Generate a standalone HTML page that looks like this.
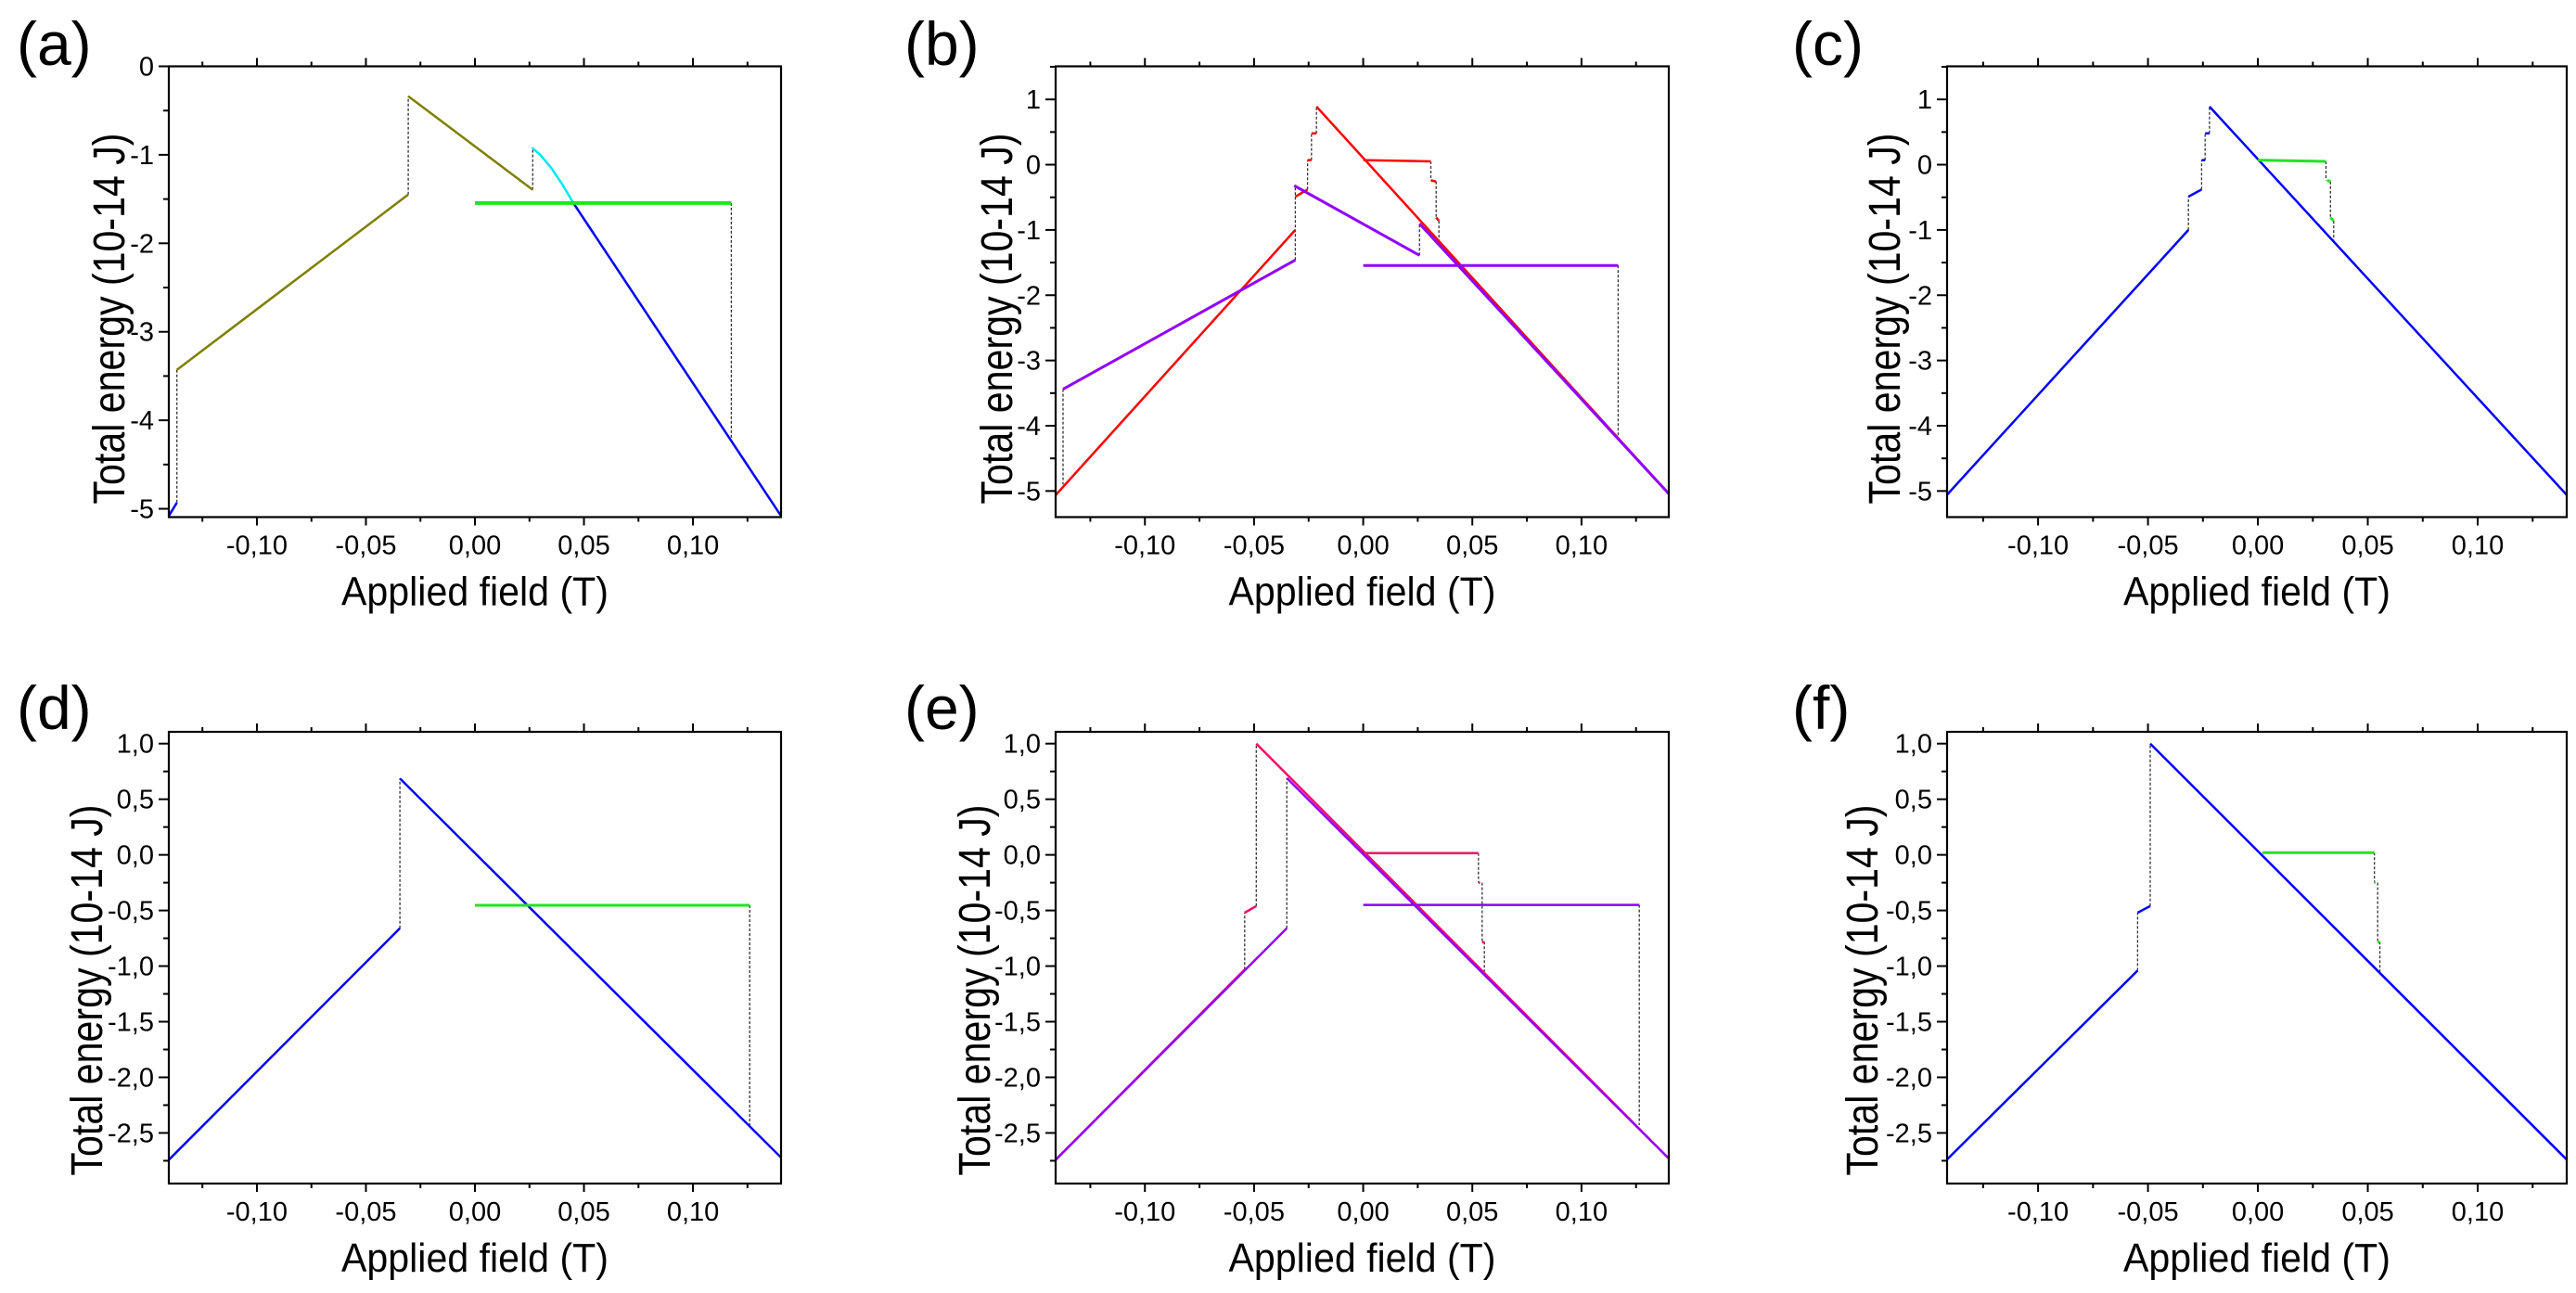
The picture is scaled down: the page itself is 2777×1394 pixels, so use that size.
<!DOCTYPE html>
<html><head><meta charset="utf-8"><style>
html,body{margin:0;padding:0;background:#fff;}
svg{display:block;font-family:"Liberation Sans",Arial,sans-serif;}
</style></head><body>
<svg id="fig" width="2777" height="1394" viewBox="0 0 2777 1394" xmlns="http://www.w3.org/2000/svg"></svg>
<script>
// ===== Data (field in T, energy in 1e-14 J); null = break =====
// panel a
const aOliveX=[-0.1367,-0.0306,null,-0.0306,0.0265];
const aOliveY=[-3.43,-1.45,null,-0.337,-1.395];
const aCyanX=[0.0262,0.030,0.035,0.040,0.045];
const aCyanY=[-0.92,-1.0,-1.15,-1.33,-1.54];
const aGreenX=[0.0,0.1176];
const aGreenY=[-1.545,-1.545];
const aBlueX=[-0.1404,-0.1367,null,0.045,0.1404];
const aBlueY=[-5.08,-4.93,null,-1.54,-5.08];
const aDashX=[-0.1367,-0.1367,null,-0.0306,-0.0306,null,0.0265,0.0265,null,0.1176,0.1176];
const aDashY=[-3.43,-4.93,null,-1.45,-0.337,null,-1.395,-0.92,null,-1.545,-4.22];
// panel b
const bRedX=[-0.1408,-0.0311,null,-0.0311,-0.0255,null,-0.0255,-0.0237,null,-0.0237,-0.0214,null,-0.0214,0.1405,null,0.0,0.031,null,0.031,0.0334,null,0.0334,0.0347];
const bRedY=[-5.06,-1.0,null,-0.49,-0.38,null,0.07,0.07,null,0.48,0.48,null,0.89,-5.06,null,0.07,0.05,null,-0.24,-0.26,null,-0.81,-0.86];
const bPurpleX=[-0.1375,-0.0311,null,-0.0316,0.0258,null,0.0258,0.1405,null,0.0,0.1168];
const bPurpleY=[-3.44,-1.46,null,-0.32,-1.39,null,-0.905,-5.06,null,-1.545,-1.545];
const bDashX=[-0.1375,-0.1375,null,-0.0311,-0.0311,null,-0.0255,-0.0255,null,-0.0237,-0.0237,null,-0.0214,-0.0214,null,0.0258,0.0258,null,0.031,0.031,null,0.0334,0.0334,null,0.0347,0.0347,null,0.1168,0.1168];
const bDashY=[-3.44,-4.9,null,-1.46,-0.32,null,-0.38,0.07,null,0.07,0.48,null,0.48,0.89,null,-1.39,-0.905,null,0.05,-0.24,null,-0.26,-0.81,null,-0.86,-1.16,null,-1.545,-4.2];
// panel c
const cBlueX=[-0.1415,-0.0316,null,-0.0316,-0.0256,null,-0.0256,-0.024,null,-0.024,-0.022,null,-0.022,0.1405];
const cBlueY=[-5.06,-1.0,null,-0.49,-0.38,null,0.07,0.07,null,0.48,0.48,null,0.89,-5.06];
const cGreenX=[0.0,0.031,null,0.0315,0.033,null,0.033,0.0345];
const cGreenY=[0.07,0.05,null,-0.24,-0.26,null,-0.81,-0.86];
const cDashX=[-0.0316,-0.0316,null,-0.0256,-0.0256,null,-0.024,-0.024,null,-0.022,-0.022,null,0.031,0.031,null,0.033,0.033,null,0.0345,0.0345];
const cDashY=[-1.0,-0.49,null,-0.38,0.07,null,0.07,0.48,null,0.48,0.89,null,0.05,-0.24,null,-0.26,-0.81,null,-0.86,-1.15];
// panel d
const dBlueX=[-0.1403,-0.0344,null,-0.0344,0.1403];
const dBlueY=[-2.74,-0.66,null,0.687,-2.72];
const dGreenX=[0.0,0.126];
const dGreenY=[-0.453,-0.453];
const dDashX=[-0.0344,-0.0344,null,0.126,0.126];
const dDashY=[-0.66,0.687,null,-0.453,-2.43];
// panel e
const ePinkX=[-0.1408,-0.0543,null,-0.0543,-0.049,null,-0.049,0.1405,null,0.001,0.0528,null,0.0528,0.0535,null,0.0545,0.0555];
const ePinkY=[-2.74,-1.03,null,-0.52,-0.46,null,1.0,-2.74,null,0.016,0.016,null,-0.25,-0.25,null,-0.78,-0.79];
const ePurpleX=[-0.1408,-0.035,null,-0.035,0.1405,null,0.0,0.1265];
const ePurpleY=[-2.74,-0.66,null,0.69,-2.74,null,-0.45,-0.45];
const eDashX=[-0.0543,-0.0543,null,-0.049,-0.049,null,-0.035,-0.035,null,0.0528,0.0528,null,0.0545,0.0545,null,0.0555,0.0555,null,0.1265,0.1265];
const eDashY=[-1.03,-0.52,null,-0.46,1.0,null,-0.66,0.69,null,0.016,-0.25,null,-0.25,-0.78,null,-0.78,-1.05,null,-0.45,-2.43];
// panel f
const fBlueX=[-0.1415,-0.0547,null,-0.0547,-0.049,null,-0.049,0.1405];
const fBlueY=[-2.74,-1.04,null,-0.52,-0.46,null,1.0,-2.74];
const fGreenX=[0.002,0.053,null,0.053,0.0535,null,0.0545,0.0555];
const fGreenY=[0.02,0.02,null,-0.25,-0.25,null,-0.78,-0.79];
const fDashX=[-0.0547,-0.0547,null,-0.049,-0.049,null,0.053,0.053,null,0.0545,0.0545,null,0.0555,0.0555];
const fDashY=[-1.04,-0.52,null,-0.46,1.0,null,0.02,-0.25,null,-0.25,-0.78,null,-0.78,-1.05];
// ticks
const xTicks=[-0.10,-0.05,0.00,0.05,0.10];
const xTickLabels=["-0,10","-0,05","0,00","0,05","0,10"];
const xMinor=[-0.125,-0.075,-0.025,0.025,0.075,0.125];
const yTicksA=[0,-1,-2,-3,-4,-5];
const yTickLabelsA=["0","-1","-2","-3","-4","-5"];
const yTicksB=[1,0,-1,-2,-3,-4,-5];
const yTickLabelsB=["1","0","-1","-2","-3","-4","-5"];
const yTicksD=[1.0,0.5,0.0,-0.5,-1.0,-1.5,-2.0,-2.5];
const yTickLabelsD=["1,0","0,5","0,0","-0,5","-1,0","-1,5","-2,0","-2,5"];

const NS="http://www.w3.org/2000/svg";
const svg=document.getElementById('fig');
function mk(tag,attrs,parent){const e=document.createElementNS(NS,tag);for(const k in attrs)e.setAttribute(k,attrs[k]);(parent||svg).appendChild(e);return e;}

const C={olive:"#7f7f00",cyan:"#00e8f0",green:"#1ee61e",blue:"#0000ff",red:"#ff0000",purple:"#9100ff",pink:"#ff0a64"};

const panels=[
 {id:"a",L:182,R:842,T:71.5,B:557.5,x0:-0.1404,x1:0.1404,y0:-5.094,y1:0,yt:yTicksA,yl:yTickLabelsA,ym:0.5,lab:18,labY:70,ttlX:117,
  series:[[aOliveX,aOliveY,C.olive,2.5,"olive-series"],[aCyanX,aCyanY,C.cyan,2.5,"cyan-series"],[aBlueX,aBlueY,C.blue,2.5,"blue-series"],[aGreenX,aGreenY,C.green,4,"green-series"]],dash:[aDashX,aDashY]},
 {id:"b",L:1138,R:1799,T:71.5,B:557.5,x0:-0.1409,x1:0.1400,y0:-5.4,y1:1.507,yt:yTicksB,yl:yTickLabelsB,ym:0.5,lab:975,labY:70,ttlX:1074,
  series:[[bRedX,bRedY,C.red,2.5,"red-series"],[bPurpleX,bPurpleY,C.purple,3,"purple-series"]],dash:[bDashX,bDashY]},
 {id:"c",L:2099,R:2767,T:71.5,B:557.5,x0:-0.1414,x1:0.1405,y0:-5.4,y1:1.507,yt:yTicksB,yl:yTickLabelsB,ym:0.5,lab:1932,labY:70,ttlX:2031,
  series:[[cBlueX,cBlueY,C.blue,2.5,"blue-series"],[cGreenX,cGreenY,C.green,3,"green-series"]],dash:[cDashX,cDashY]},
 {id:"d",L:182,R:842,T:789,B:1276,x0:-0.1404,x1:0.1404,y0:-2.955,y1:1.106,yt:yTicksD,yl:yTickLabelsD,ym:0.25,lab:18,labY:786,ttlX:93,
  series:[[dBlueX,dBlueY,C.blue,2.5,"blue-series"],[dGreenX,dGreenY,C.green,3,"green-series"]],dash:[dDashX,dDashY]},
 {id:"e",L:1138,R:1799,T:789,B:1276,x0:-0.1409,x1:0.1400,y0:-2.955,y1:1.106,yt:yTicksD,yl:yTickLabelsD,ym:0.25,lab:975,labY:786,ttlX:1050,
  series:[[ePinkX,ePinkY,C.pink,2.5,"pink-series"],[ePurpleX,ePurpleY,C.purple,2.5,"purple-series"]],dash:[eDashX,eDashY]},
 {id:"f",L:2099,R:2767,T:789,B:1276,x0:-0.1414,x1:0.1405,y0:-2.955,y1:1.106,yt:yTicksD,yl:yTickLabelsD,ym:0.25,lab:1932,labY:786,ttlX:2007,
  series:[[fBlueX,fBlueY,C.blue,2.5,"blue-series"],[fGreenX,fGreenY,C.green,3,"green-series"]],dash:[fDashX,fDashY]}
];

panels.forEach(p=>{
 const g=mk('g',{});
 
 
 const sx=v=>p.L+(v-p.x0)/(p.x1-p.x0)*(p.R-p.L);
 const sy=v=>p.B-(v-p.y0)/(p.y1-p.y0)*(p.B-p.T);
 function pathD(xs,ys){let d="",pen=false;for(let i=0;i<xs.length;i++){if(xs[i]===null){pen=false;continue;}d+=(pen?"L":"M")+sx(xs[i]).toFixed(1)+" "+sy(ys[i]).toFixed(1)+" ";pen=true;}return d;}
 const lab=mk('text',{x:p.lab,y:p.labY,'font-size':66,fill:'#000'},g);
 lab.textContent='('+p.id+')';
 
 
 const cp=mk('clipPath',{id:'clip'+p.id},g);
 mk('rect',{x:p.L,y:p.T,width:p.R-p.L,height:p.B-p.T},cp);
 const plot=mk('g',{'clip-path':'url(#clip'+p.id+')'},g);
 
 
 const dl=mk('path',{d:pathD(p.dash[0],p.dash[1]),stroke:'#333',fill:'none','stroke-width':1.3,'stroke-dasharray':'3,2'},plot);
 
 
 p.series.forEach(s=>{
  const el=mk('path',{d:pathD(s[0],s[1]),stroke:s[2],fill:'none','stroke-width':s[3],'stroke-linejoin':'round'},plot);
  
  
 });
 const fr=mk('rect',{x:p.L,y:p.T,width:p.R-p.L,height:p.B-p.T,fill:'none',stroke:'#000','stroke-width':2.2},g);
 
 
 const xa=mk('g',{},g);
 
 
 xTicks.forEach((v,i)=>{
  const x=sx(v);
  mk('line',{x1:x,x2:x,y1:p.B,y2:p.B+9,stroke:'#000','stroke-width':2},xa);
  mk('line',{x1:x,x2:x,y1:p.T,y2:p.T-9,stroke:'#000','stroke-width':2},xa);
  const t=mk('text',{x:x,y:p.B+40,'font-size':29,'text-anchor':'middle',fill:'#000'},xa);
  t.textContent=xTickLabels[i];
  
  
 });
 xMinor.forEach(v=>{const x=sx(v);
  mk('line',{x1:x,x2:x,y1:p.B,y2:p.B+5,stroke:'#000','stroke-width':2},xa);
  mk('line',{x1:x,x2:x,y1:p.T,y2:p.T-5,stroke:'#000','stroke-width':2},xa);});
 const xt=mk('text',{x:(p.L+p.R)/2,y:p.B+95,'font-size':44,'text-anchor':'middle',fill:'#000',textLength:288,lengthAdjust:'spacingAndGlyphs'},g);
 xt.textContent='Applied field (T)';
 
 
 const ya=mk('g',{},g);
 
 
 p.yt.forEach((v,i)=>{
  const y=sy(v);
  mk('line',{x1:p.L,x2:p.L-11,y1:y,y2:y,stroke:'#000','stroke-width':2},ya);
  const t=mk('text',{x:p.L-16,y:y+10,'font-size':29,'text-anchor':'end',fill:'#000'},ya);
  t.textContent=p.yl[i];
  
  
 });
 for(let v=Math.ceil(p.y0/p.ym)*p.ym;v<=p.y1+1e-9;v+=p.ym){
  if(p.yt.some(t=>Math.abs(t-v)<1e-6))continue;
  const y=sy(v);mk('line',{x1:p.L,x2:p.L-6,y1:y,y2:y,stroke:'#000','stroke-width':2},ya);
 }
 const yt=mk('text',{x:0,y:0,'font-size':48,'text-anchor':'middle',fill:'#000',textLength:400,lengthAdjust:'spacingAndGlyphs',transform:'translate('+(p.ttlX+17)+','+((p.T+p.B)/2+ (p.T<500?29:35))+') rotate(-90)'},g);
 yt.textContent='Total energy (10-14  J)';
 
 
});
</script>
</body></html>
